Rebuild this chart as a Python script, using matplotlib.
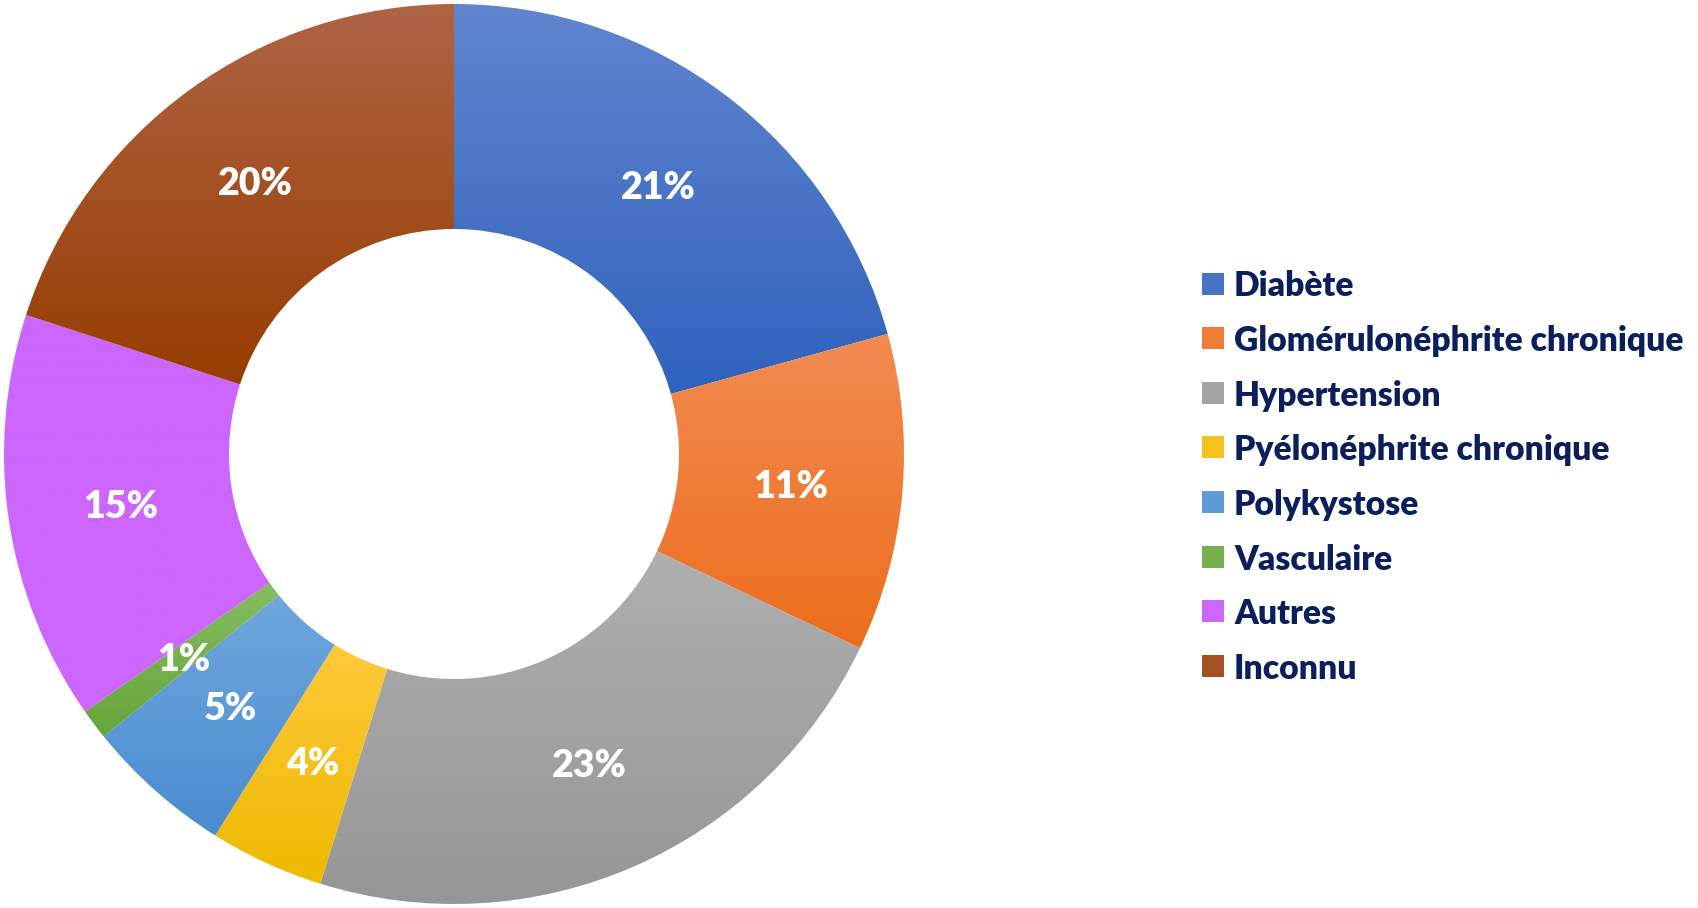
import numpy as np
import matplotlib
matplotlib.use("Agg")
import matplotlib.pyplot as plt
from matplotlib.colors import to_rgb
from matplotlib.patches import Rectangle

categories = ["Diabète", "Glomérulonéphrite chronique", "Hypertension",
              "Pyélonéphrite chronique", "Polykystose", "Vasculaire",
              "Autres", "Inconnu"]
values = [20.7, 11.4, 22.7, 4.1, 5.3, 1.1, 14.7, 20.0]
# gradient ends of each slice (top, bottom)
top_colors = ["#6185CE", "#F28B52", "#AFAFAF", "#FFC93A", "#6FA7DD",
              "#85BC60", "#CC66FF", "#AE6445"]
bottom_colors = ["#2F62BE", "#EC6E1C", "#969696", "#EDB900", "#4A8CD0",
                 "#67A63B", "#CC66FF", "#983C00"]

FONT = "Lato"
NAVY = "#0B1F5C"
W, H = 1698, 908

fig = plt.figure(figsize=(W / 100, H / 100), dpi=100)
ax = fig.add_axes([4 / W, 4 / H, 900 / W, 900 / H])
wedges, _ = ax.pie(values, startangle=90, counterclock=False, radius=1,
                   wedgeprops=dict(width=0.5, linewidth=0))

# vertical gradient per slice, lighter on top (office-style fill)
g = np.linspace(0, 1, 256)[:, None, None]
for w, ct, cb in zip(wedges, top_colors, bottom_colors):
    ext = w.get_path().get_extents()
    top, bot = np.array(to_rgb(ct)), np.array(to_rgb(cb))
    img = top[None, None, :] * (1 - g) + bot[None, None, :] * g
    im = ax.imshow(img, extent=[ext.x0, ext.x1, ext.y0, ext.y1], origin="upper",
                   aspect="auto", interpolation="bilinear", zorder=1)
    im.set_clip_path(w)
    w.set_facecolor("none")

# percentage labels in the middle of the ring
for w, v in zip(wedges, values):
    a = np.deg2rad((w.theta1 + w.theta2) / 2)
    ax.text(0.75 * np.cos(a), 0.75 * np.sin(a), f"{round(v)}%", color="white",
            fontsize=27, fontweight="heavy", family=FONT, ha="center",
            va="center_baseline", zorder=5)

ax.set_xlim(-1, 1)
ax.set_ylim(-1, 1)
ax.set_aspect("equal")
ax.axis("off")

# legend, drawn by hand in pixel positions
for i, (lab, ct, cb) in enumerate(zip(categories, top_colors, bottom_colors)):
    yc = 283.5 + i * 54.6
    mix = (np.array(to_rgb(ct)) + np.array(to_rgb(cb))) / 2
    sq = Rectangle((1202 / W, 1 - (yc + 11) / H), 22 / W, 22 / H,
                   transform=fig.transFigure, lw=0, facecolor=mix)
    fig.patches.append(sq)
    fig.text(1234 / W, 1 - yc / H, lab, color=NAVY, fontsize=24.2,
             fontweight="heavy", family=FONT, ha="left", va="center_baseline")

fig.savefig("out.png", dpi=100)
